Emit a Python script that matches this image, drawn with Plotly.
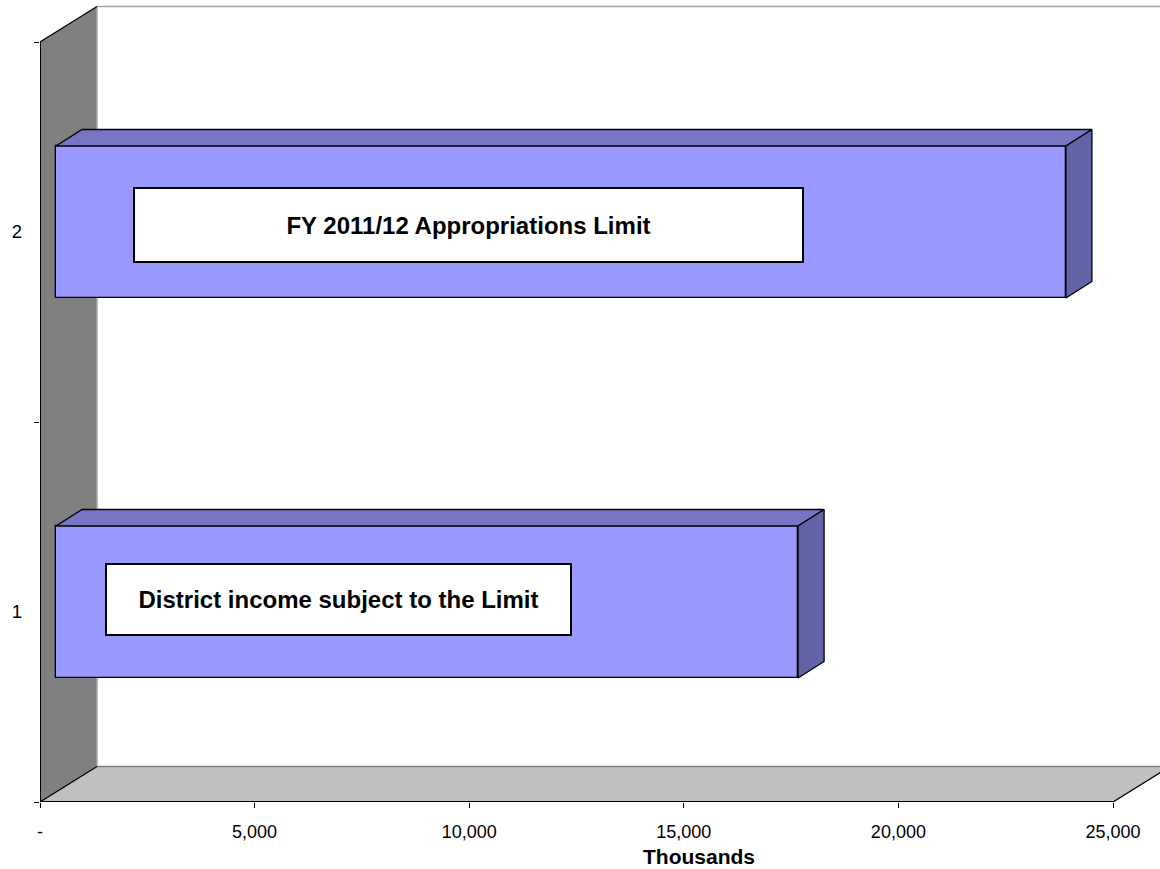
import plotly.graph_objects as go

# Data (values in thousands)
categories = [1, 2]
values = [17290, 23530]
bar_labels = ["District income subject to the Limit", "FY 2011/12 Appropriations Limit"]
x_tickvals = [0, 5000, 10000, 15000, 20000, 25000]
x_ticktext = ["-", "5,000", "10,000", "15,000", "20,000", "25,000"]

FONT = "Liberation Sans, Arial, sans-serif"

# Oblique 3D projection settings (data units)
W, H = 1160, 869
ML, MB = 40, 67
X_MAX = 25000
PX_PER_X = 1073 / X_MAX            # front-plane horizontal scale
PX_PER_Y = 380                     # one category band
XR = [0, (W - ML) / PX_PER_X]
YR = [0.5, 0.5 + (H - MB) / PX_PER_Y]

DEPTH_X = 57 / PX_PER_X            # full depth of the chart box
DEPTH_Y = 35.5 / PX_PER_Y
BAR_OFF_X = 16 / PX_PER_X          # bar front face depth
BAR_OFF_Y = 10 / PX_PER_Y
BAR_DX = 26 / PX_PER_X             # bar thickness in depth
BAR_DY = 16.5 / PX_PER_Y
BAR_W = 0.4

FRONT = "#9999FF"
TOP = "#7676C4"
SIDE = "#6363A8"

fig = go.Figure()

# Top and right faces of each bar
for c, v in zip(categories, values):
    yc = c + BAR_OFF_Y
    y0, y1 = yc - BAR_W / 2, yc + BAR_W / 2
    x0, x1 = BAR_OFF_X, BAR_OFF_X + v
    fig.add_trace(go.Scatter(
        x=[x0, x0 + BAR_DX, x1 + BAR_DX, x1, x0],
        y=[y1, y1 + BAR_DY, y1 + BAR_DY, y1, y1],
        fill="toself", fillcolor=TOP, mode="lines",
        line=dict(color="black", width=1.3), hoverinfo="skip", showlegend=False))
    fig.add_trace(go.Scatter(
        x=[x1, x1 + BAR_DX, x1 + BAR_DX, x1, x1],
        y=[y1, y1 + BAR_DY, y0 + BAR_DY, y0, y1],
        fill="toself", fillcolor=SIDE, mode="lines",
        line=dict(color="black", width=1.3), hoverinfo="skip", showlegend=False))

# Front faces
fig.add_trace(go.Bar(
    orientation="h",
    x=values,
    y=[c + BAR_OFF_Y for c in categories],
    base=BAR_OFF_X,
    width=BAR_W,
    marker=dict(color=FRONT, line=dict(color="black", width=1.3)),
    hoverinfo="skip", showlegend=False))

# Walls and floor
shapes = []
wall = (f"M 0 0.5 L 0 2.5 L {DEPTH_X} {2.5 + DEPTH_Y} "
        f"L {DEPTH_X} {0.5 + DEPTH_Y} Z")
floor = (f"M 0 0.5 L {DEPTH_X} {0.5 + DEPTH_Y} L {X_MAX + DEPTH_X} {0.5 + DEPTH_Y} "
         f"L {X_MAX} 0.5 Z")
shapes.append(dict(type="path", path=wall, xref="x", yref="y", layer="below",
                   fillcolor="#808080", line=dict(width=0)))
shapes.append(dict(type="path", path=floor, xref="x", yref="y", layer="below",
                   fillcolor="#C0C0C0", line=dict(width=0)))


def seg(xa, ya, xb, yb, color, width):
    return dict(type="line", xref="x", yref="y", x0=xa, y0=ya, x1=xb, y1=yb,
                layer="below", line=dict(color=color, width=width))


# light edges at the back of the box
shapes.append(seg(DEPTH_X, 0.5 + DEPTH_Y, DEPTH_X, 2.5 + DEPTH_Y, "#A6A6A6", 1.5))
shapes.append(seg(DEPTH_X, 2.5 + DEPTH_Y, X_MAX + DEPTH_X, 2.5 + DEPTH_Y, "#A6A6A6", 1.5))
shapes.append(seg(DEPTH_X, 0.5 + DEPTH_Y, X_MAX + DEPTH_X, 0.5 + DEPTH_Y, "#808080", 1.5))
# dark front edges
shapes.append(seg(0, 0.5, 0, 2.5, "black", 2))
shapes.append(seg(0, 2.5, DEPTH_X, 2.5 + DEPTH_Y, "black", 1.3))
shapes.append(seg(0, 0.5, DEPTH_X, 0.5 + DEPTH_Y, "black", 1.3))
shapes.append(seg(0, 0.5, X_MAX, 0.5, "black", 2))
shapes.append(seg(X_MAX, 0.5, X_MAX + DEPTH_X, 0.5 + DEPTH_Y, "black", 1.3))

# Labels inside the bars
label_pos = [(6955, 1.034, 463, 69), (9984, 2.0197, 667, 72)]
annotations = []
for text, (ax_, ay_, w_, h_) in zip(bar_labels, label_pos):
    annotations.append(dict(
        x=ax_, y=ay_, xref="x", yref="y", text=f"<b>{text}</b>", showarrow=False,
        xanchor="center", yanchor="middle", width=w_, height=h_,
        bgcolor="white", bordercolor="black", borderwidth=2, borderpad=0,
        font=dict(family=FONT, size=24, color="black")))

# axis unit label, sitting on the bottom edge of the figure
annotations.append(dict(
    x=(699 - ML) / (W - ML), y=-(H - (H - MB)) / (H - MB),
    xref="paper", yref="paper",
    text="<b>Thousands</b>", showarrow=False, xanchor="center", yanchor="bottom",
    borderpad=0,
    font=dict(family=FONT, size=21, color="black")))

fig.update_layout(
    width=W, height=H,
    margin=dict(l=ML, r=0, t=0, b=MB),
    paper_bgcolor="white", plot_bgcolor="white",
    shapes=shapes, annotations=annotations,
    bargap=0,
    xaxis=dict(range=XR, tickvals=x_tickvals, ticktext=x_ticktext,
               ticks="outside", ticklen=5, tickcolor="black", tickwidth=1,
               showgrid=False, zeroline=False, showline=False,
               ticklabelstandoff=8,
               tickfont=dict(family=FONT, size=18, color="black")),
    yaxis=dict(range=YR, tickvals=categories, ticktext=[str(c) for c in categories],
               ticks="", showgrid=False, zeroline=False, showline=False,
               ticklabelstandoff=17,
               minor=dict(tickvals=[0.5, 1.5, 2.5], ticks="outside", ticklen=5,
                          tickcolor="black", tickwidth=1, showgrid=False),
               tickfont=dict(family=FONT, size=18.5, color="black")),
)

fig.write_html("out.html")
